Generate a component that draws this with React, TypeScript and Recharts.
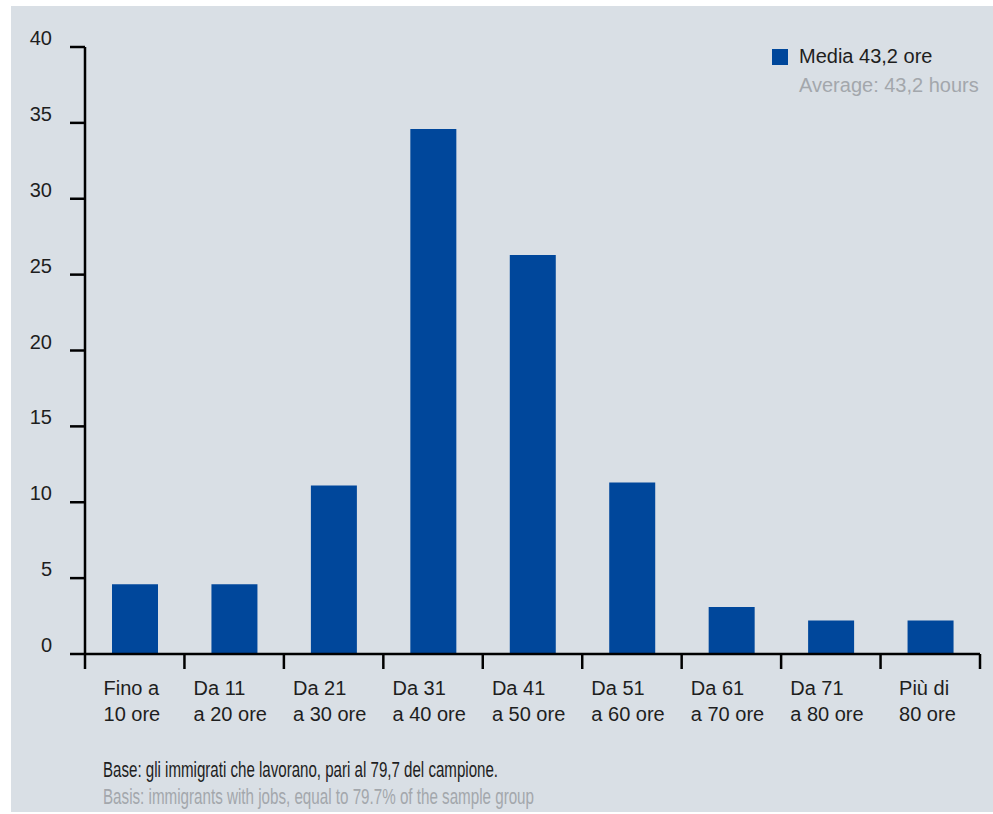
import React from 'react';
import { Bar, BarChart, Legend, XAxis, YAxis } from 'recharts';

// Weekly working hours of employed immigrants (% of respondents)
const hourBands: string[][] = [
  ['Fino a', '10 ore'],
  ['Da 11', 'a 20 ore'],
  ['Da 21', 'a 30 ore'],
  ['Da 31', 'a 40 ore'],
  ['Da 41', 'a 50 ore'],
  ['Da 51', 'a 60 ore'],
  ['Da 61', 'a 70 ore'],
  ['Da 71', 'a 80 ore'],
  ['Più di', '80 ore'],
];
const shares = [4.6, 4.6, 11.1, 34.6, 26.3, 11.3, 3.1, 2.2, 2.2];
const yTicks = [0, 5, 10, 15, 20, 25, 30, 35, 40];

const legendTitle = 'Media 43,2 ore';
const legendSubtitle = 'Average: 43,2 hours';
const noteIt = 'Base: gli immigrati che lavorano, pari al 79,7 del campione.';
const noteEn = 'Basis: immigrants with jobs, equal to 79.7% of the sample group';

const data = hourBands.map((lines, i) => ({ key: lines.join(' '), lines, value: shares[i] }));

const FONT = '"Liberation Sans", Arial, sans-serif';
const INK = '#1e1e1e';
const MUTED = '#a3a7ac';
const BLUE = '#00479b';
const PANEL = '#d9dfe5';

const W = 982;
const H = 806;

const YTick = (props: any) => {
  const { x, y, payload } = props;
  return (
    <text x={x} y={y - 2} textAnchor="end" fontSize={20} fill={INK} fontFamily={FONT}>
      {payload.value}
    </text>
  );
};

const XTick = (props: any) => {
  const { x, y, payload, index, width, visibleTicksCount } = props;
  const band = width && visibleTicksCount ? width / visibleTicksCount : 895 / 9;
  const row = data[index] ?? data.find((d) => d.key === payload.value);
  const lines: string[] = row ? row.lines : [String(payload.value)];
  const longest = Math.max(...lines.map((l) => l.length));
  const left = x - (longest * 9.4) / 2 - 3;
  const isLast = index === data.length - 1;
  return (
    <g>
      <line x1={x - band / 2} x2={x - band / 2} y1={y} y2={y + 15} stroke="#000" strokeWidth={2.5} />
      {isLast && <line x1={x + band / 2} x2={x + band / 2} y1={y} y2={y + 15} stroke="#000" strokeWidth={2.5} />}
      {lines.map((l, i) => (
        <text key={i} x={left} y={y + 41 + i * 26} fontSize={20} fill={INK} fontFamily={FONT}>
          {l}
        </text>
      ))}
    </g>
  );
};

const LegendBox = () => (
  <div style={{ fontFamily: FONT, fontSize: 20, lineHeight: '29px' }}>
    <div style={{ display: 'flex', alignItems: 'center', color: INK }}>
      <span style={{ width: 16, height: 16, background: BLUE, display: 'inline-block', marginRight: 11 }} />
      {legendTitle}
    </div>
    <div style={{ color: MUTED, paddingLeft: 27 }}>{legendSubtitle}</div>
  </div>
);

export default function App() {
  return (
    <div style={{ position: 'absolute', left: 0, top: 0, width: 993, height: 814, background: '#fff', overflow: 'hidden' }}>
      <div style={{ position: 'absolute', left: 11, top: 6, width: W, height: H, background: PANEL }}>
        <BarChart width={W} height={H} data={data} margin={{ top: 41, right: 13, bottom: 68, left: 0 }}>
          <YAxis
            width={74}
            domain={[0, 40]}
            ticks={yTicks}
            interval={0}
            tickSize={15}
            tickMargin={18}
            axisLine={{ stroke: '#000', strokeWidth: 2.5 }}
            tickLine={{ stroke: '#000', strokeWidth: 2.5 }}
            tick={<YTick />}
          />
          <XAxis
            dataKey="key"
            height={90}
            interval={0}
            tickSize={0}
            tickMargin={0}
            tickLine={false}
            axisLine={{ stroke: '#000', strokeWidth: 2.5 }}
            tick={<XTick />}
          />
          <Legend
            layout="horizontal"
            verticalAlign="middle"
            align="center"
            content={<LegendBox />}
            wrapperStyle={{ top: 36, left: 761, width: 'auto', height: 'auto' }}
          />
          <Bar dataKey="value" fill={BLUE} barSize={46} isAnimationActive={false} />
        </BarChart>
        <svg width={W} height={60} style={{ position: 'absolute', left: 0, top: 750 }}>
          <text x={92} y={21} fontSize={21.5} fill={INK} fontFamily={FONT} textLength={395} lengthAdjust="spacingAndGlyphs">
            {noteIt}
          </text>
          <text x={92} y={48} fontSize={21.5} fill={MUTED} fontFamily={FONT} textLength={431} lengthAdjust="spacingAndGlyphs">
            {noteEn}
          </text>
        </svg>
      </div>
    </div>
  );
}
